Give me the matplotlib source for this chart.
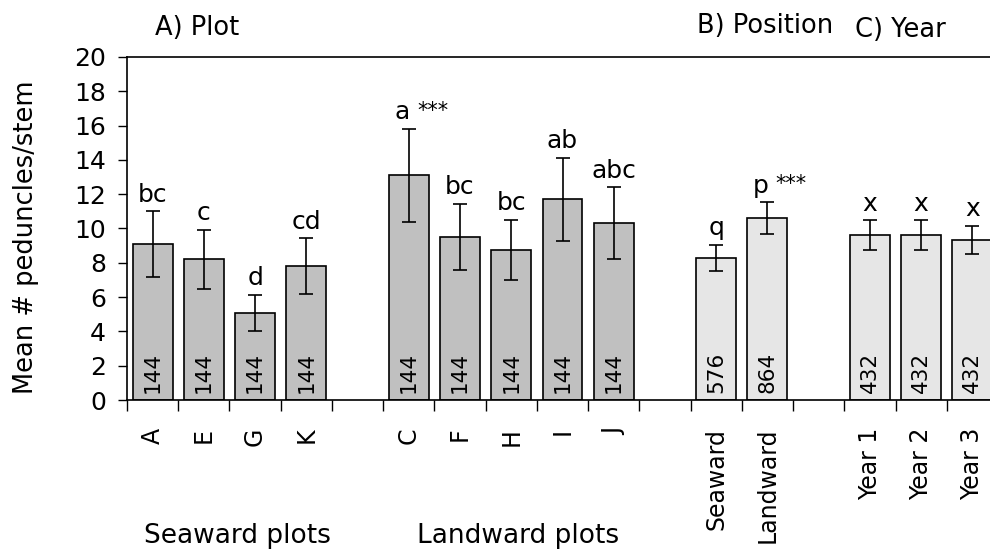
import numpy as np
import matplotlib.pyplot as plt

plt.rcParams['font.family'] = ['DejaVu Sans']

# plot means (peduncles per stem), standard errors, group letters and n
seaward_plots = ['A', 'E', 'G', 'K']
seaward_mean = [9.1, 8.2, 5.1, 7.8]
seaward_err = [1.9, 1.7, 1.05, 1.63]
seaward_sig = ['bc', 'c', 'd', 'cd']
seaward_n = [144, 144, 144, 144]

landward_plots = ['C', 'F', 'H', 'I', 'J']
landward_mean = [13.1, 9.5, 8.75, 11.7, 10.3]
landward_err = [2.7, 1.93, 1.75, 2.4, 2.1]
landward_sig = ['a', 'bc', 'bc', 'ab', 'abc']
landward_n = [144, 144, 144, 144, 144]

position = ['Seaward', 'Landward']
position_mean = [8.3, 10.6]
position_err = [0.76, 0.93]
position_sig = ['q', 'p']
position_n = [576, 864]

years = ['Year 1', 'Year 2', 'Year 3']
year_mean = [9.6, 9.6, 9.35]
year_err = [0.88, 0.88, 0.81]
year_sig = ['x', 'x', 'x']
year_n = [432, 432, 432]

# bars flagged with *** next to their letter
starred = ['C', 'Landward']

dark = '#c0c0c0'
light = '#e6e6e6'

groups = [
    (seaward_plots, seaward_mean, seaward_err, seaward_sig, seaward_n, dark),
    (landward_plots, landward_mean, landward_err, landward_sig, landward_n, dark),
    (position, position_mean, position_err, position_sig, position_n, light),
    (years, year_mean, year_err, year_sig, year_n, light),
]

fig = plt.figure(figsize=(9.9, 5.5), dpi=100)
ax = fig.add_axes([127/990, 150/550, 871/990, 343/550])

labels, centers = [], []
group_x = []
x = 0
for names, mean, err, sig, n, col in groups:
    pos = np.arange(len(names)) + x
    ax.bar(pos, mean, width=0.78, color=col, edgecolor='black', linewidth=1.2, zorder=2)
    ax.errorbar(pos, mean, yerr=err, fmt='none', ecolor='black', elinewidth=1.2,
                capsize=5, capthick=1.2, zorder=3)
    for p, m, e, s, k, name in zip(pos, mean, err, sig, n, names):
        top = m + e
        if name in starred:
            ax.annotate(s, (p, top), xytext=(1, 7), textcoords='offset points',
                        ha='right', va='baseline', fontsize=18)
            ax.annotate('***', (p, top), xytext=(6, 9), textcoords='offset points',
                        ha='left', va='baseline', fontsize=15)
        else:
            ax.annotate(s, (p, top), xytext=(0, 7), textcoords='offset points',
                        ha='center', va='baseline', fontsize=18)
        ax.annotate(str(k), (p, 0), xytext=(0, 5), textcoords='offset points',
                    rotation=90, ha='center', va='bottom', fontsize=15.5)
    labels += names
    centers += list(pos)
    group_x.append(pos.mean())
    x += len(names) + 1

ax.set_xlim(-0.5, 16.5)
ax.set_ylim(0, 20)
ax.set_yticks(np.arange(0, 21, 2))
ax.tick_params(axis='y', direction='out', length=6.5, width=1, pad=8.5, labelsize=18)

ax.set_xticks(centers)
ax.set_xticklabels(labels, rotation=90, fontsize=17)
ax.set_xticks(np.arange(-0.5, 17, 1), minor=True)
ax.tick_params(axis='x', which='major', length=0, pad=20)
ax.tick_params(axis='x', which='minor', direction='out', length=8, width=1)

for side in ['left', 'bottom', 'top']:
    ax.spines[side].set_linewidth(1.2)
ax.spines['right'].set_visible(False)

fig.text(26/990, 1 - 237/550, 'Mean # peduncles/stem', rotation=90,
         ha='center', va='center', fontsize=18.5)

tr = ax.get_xaxis_transform()
ax.text(0.87, 1.064, 'A) Plot', transform=tr, ha='center', va='baseline', fontsize=18.5)
ax.text(11.95, 1.07, 'B) Position', transform=tr, ha='center', va='baseline', fontsize=18.5)
ax.text(14.59, 1.058, 'C) Year', transform=tr, ha='center', va='baseline', fontsize=18.5)

ax.text(group_x[0] + 0.15, -0.417, 'Seaward plots', transform=tr,
        ha='center', va='baseline', fontsize=19)
ax.text(group_x[1] + 0.14, -0.417, 'Landward plots', transform=tr,
        ha='center', va='baseline', fontsize=19)

fig.savefig('out.png', dpi=100)
